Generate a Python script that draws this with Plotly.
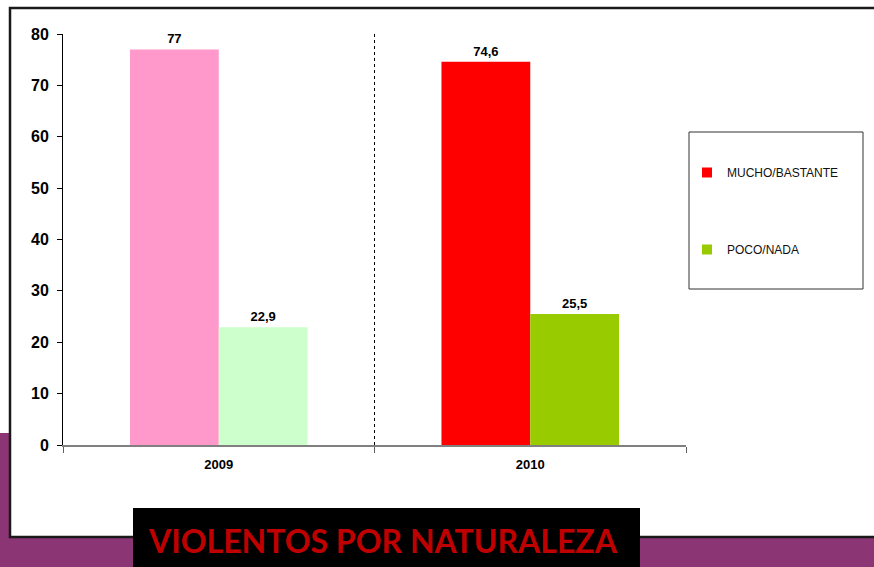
import plotly.graph_objects as go

years = ["2009", "2010"]
series_names = ["MUCHO/BASTANTE", "POCO/NADA"]
mucho = [77, 74.6]
poco = [22.9, 25.5]
mucho_colors = ["#FF99CC", "#FF0000"]
poco_colors = ["#CCFFCC", "#99CC00"]
legend_colors = ["#FF0000", "#99CC00"]
title_text = "VIOLENTOS POR NATURALEZA"

W, H = 874, 567
L, R, T, B = 63, 188, 34, 122
PW, PH = W - L - R, H - T - B


def px(x):
    return (x - L) / PW


def py(y):
    return (H - B - y) / PH


def lab(v):
    return f"{v:g}".replace(".", ",")


label_font = dict(family="Liberation Sans", size=13, color="black", weight="bold")

fig = go.Figure()
for name, vals, cols, grp in [(series_names[0], mucho, mucho_colors, "a"),
                              (series_names[1], poco, poco_colors, "b")]:
    fig.add_trace(go.Bar(
        x=years, y=vals, name=name, marker=dict(color=cols, line=dict(width=0)),
        text=[lab(v) for v in vals], textposition="outside", cliponaxis=False,
        textfont=label_font, legendgroup=grp, showlegend=False,
    ))
for name, col, grp in [(series_names[0], legend_colors[0], "a"),
                       (series_names[1], legend_colors[1], "b")]:
    fig.add_trace(go.Scatter(
        x=[None], y=[None], mode="markers", name=name, legendgroup=grp,
        marker=dict(symbol="square", size=10, color=col, line=dict(width=0)),
        showlegend=True,
    ))

shapes = [
    dict(type="rect", xref="paper", yref="paper", x0=px(-5), x1=px(W + 5), y0=py(433), y1=py(H + 5),
         fillcolor="#8B3574", line=dict(width=0), layer="below"),
    dict(type="rect", xref="paper", yref="paper", x0=px(10), x1=px(W + 20), y0=py(8), y1=py(537),
         fillcolor="white", line=dict(color="#1a1a1a", width=2.5), layer="below"),
    dict(type="rect", xref="paper", yref="paper", x0=px(689), x1=px(863), y0=py(132), y1=py(289),
         fillcolor="white", line=dict(color="#333333", width=1), layer="below"),
    dict(type="rect", xref="paper", yref="paper", x0=px(133), x1=px(640), y0=py(508), y1=py(H + 5),
         fillcolor="black", line=dict(width=0), layer="above"),
]

fig.update_layout(
    width=W, height=H,
    margin=dict(l=L, r=R, t=T, b=B, pad=0),
    paper_bgcolor="white", plot_bgcolor="rgba(0,0,0,0)",
    barmode="group", bargap=0.43, bargroupgap=0,
    font=dict(family="Liberation Sans", color="black"),
    showlegend=True,
    legend=dict(x=px(687), y=py(158), xanchor="left", yanchor="top",
                bgcolor="rgba(0,0,0,0)", borderwidth=0,
                font=dict(family="Liberation Sans", size=12, color="#111111"),
                traceorder="grouped", tracegroupgap=58, itemwidth=30),
    shapes=shapes,
    annotations=[dict(xref="paper", yref="paper", x=px(383), y=py(540), text="<b>" + title_text + "</b>",
                      showarrow=False, xanchor="center", yanchor="middle",
                      font=dict(family="Lato", size=32, color="#C00000"))],
    xaxis=dict(type="category", range=[-0.5, 1.5], tickson="boundaries",
               showgrid=True, griddash="dot", gridcolor="black", gridwidth=1.2,
               showline=True, linecolor="#808080", linewidth=2,
               ticks="outside", ticklen=6, tickcolor="#606060", tickwidth=1,
               tickfont=dict(family="Liberation Sans", size=13, color="black", weight="bold"),
               ticklabelstandoff=6,
               fixedrange=True, zeroline=False),
    yaxis=dict(range=[0, 80], tickvals=[0, 10, 20, 30, 40, 50, 60, 70, 80],
               showgrid=False, zeroline=False, showline=True, linecolor="black", linewidth=1,
               ticks="outside", ticklen=5, tickcolor="black", ticklabelstandoff=5,
               tickfont=dict(family="Liberation Sans", size=16, color="black", weight="bold"),
               fixedrange=True),
)

fig.write_html("out.html", config={"displayModeBar": False},
               post_script="document.body.style.margin='0px';document.body.style.overflow='hidden';")
